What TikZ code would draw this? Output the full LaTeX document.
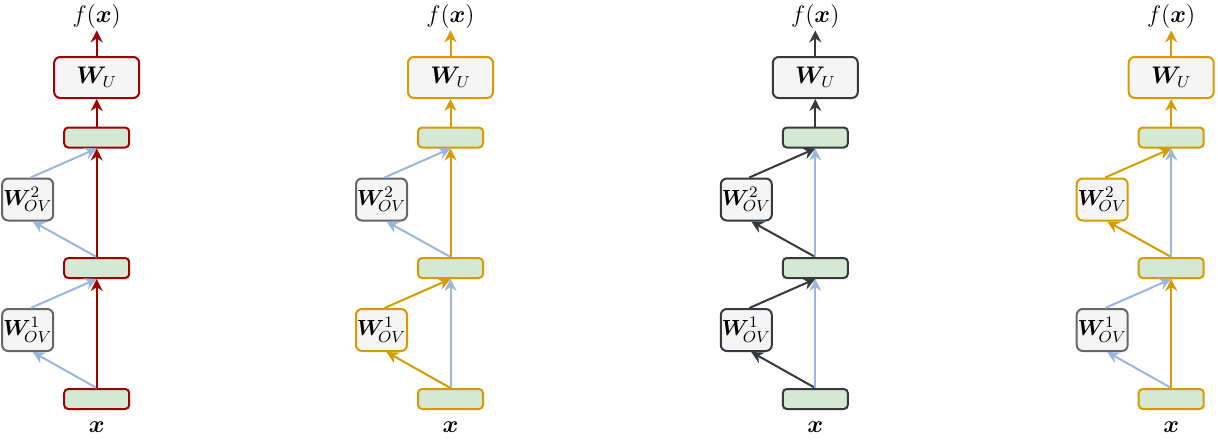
\documentclass[tikz,border=0pt]{standalone}
\usepackage{amsmath}
\usepackage{bm}
\usetikzlibrary{arrows.meta}
\definecolor{cred}{RGB}{160,0,0}
\definecolor{corange}{RGB}{215,155,0}
\definecolor{cdark}{RGB}{54,57,61}
\definecolor{cblue}{RGB}{155,181,221}
\definecolor{cgray}{RGB}{102,102,102}
\definecolor{gfill}{RGB}{213,232,212}
\definecolor{bfill}{RGB}{245,245,245}
\tikzset{
  gbox/.style={rectangle,rounded corners=2pt,fill=gfill,line width=1pt,minimum width=32.5pt,minimum height=10pt,inner sep=0pt},
  ubox/.style={rectangle,rounded corners=3pt,fill=bfill,line width=1pt,minimum width=42.5pt,minimum height=20.5pt,inner sep=0pt,font=\fontsize{11.5}{13}\selectfont},
  ovbox/.style={rectangle,rounded corners=3pt,fill=bfill,line width=1pt,minimum width=25.5pt,minimum height=21pt,inner sep=0pt,font=\fontsize{11}{13}\selectfont},
  lab/.style={inner sep=1pt,font=\fontsize{13}{15}\selectfont},
  arr/.style={line width=1pt,-{Stealth[length=6pt,width=6pt,inset=2pt]}}
}
\newcommand\drawpanel[9]{%
  \node[gbox,draw=#3] (#1x) at (#2,399) {};
  \node[gbox,draw=#3] (#1m) at (#2,268) {};
  \node[gbox,draw=#3] (#1t) at (#2,137.5) {};
  \node[ubox,draw=#3] (#1u) at (#2,77.5) {$\bm{W}_U$};
  \node[ovbox,draw=#4] (#1a) at ({#2-69},330) {$\bm{W}_{\!OV}^{1}$};
  \node[ovbox,draw=#5] (#1b) at ({#2-69},199.5) {$\bm{W}_{\!OV}^{2}$};
  \node[lab] (#1f) at (#2,16) {$f(\bm{x})$};
  \node[lab] (#1i) at (#2,427) {$\bm{x}$};
  \draw[arr,#7] (#1x.north) -- ([xshift=2.5pt]#1a.south);
  \draw[arr,#7] ([xshift=1.5pt]#1a.north) -- (#1m.south);
  \draw[arr,#8] (#1m.north) -- ([xshift=2.5pt]#1b.south);
  \draw[arr,#8] ([xshift=1.5pt]#1b.north) -- (#1t.south);
  \draw[arr,#6] (#1x.north) -- (#1m.south);
  \draw[arr,#9] (#1m.north) -- (#1t.south);
  \draw[arr,#3] (#1t.north) -- (#1u.south);
  \draw[arr,#3] (#1u.north) -- (#1f.south);
}
\begin{document}
\begin{tikzpicture}[x=0.5pt,y=-0.5pt]
\useasboundingbox (0,0) rectangle (1218,439);
\drawpanel{p}{96.7}{cred}{cgray}{cgray}{cred}{cblue}{cblue}{cred}
\drawpanel{q}{450.5}{corange}{corange}{cgray}{cblue}{corange}{cblue}{corange}
\drawpanel{r}{815.3}{cdark}{cdark}{cdark}{cblue}{cdark}{cdark}{cblue}
\drawpanel{s}{1171.2}{corange}{cgray}{corange}{corange}{cblue}{corange}{cblue}
\end{tikzpicture}
\end{document}
